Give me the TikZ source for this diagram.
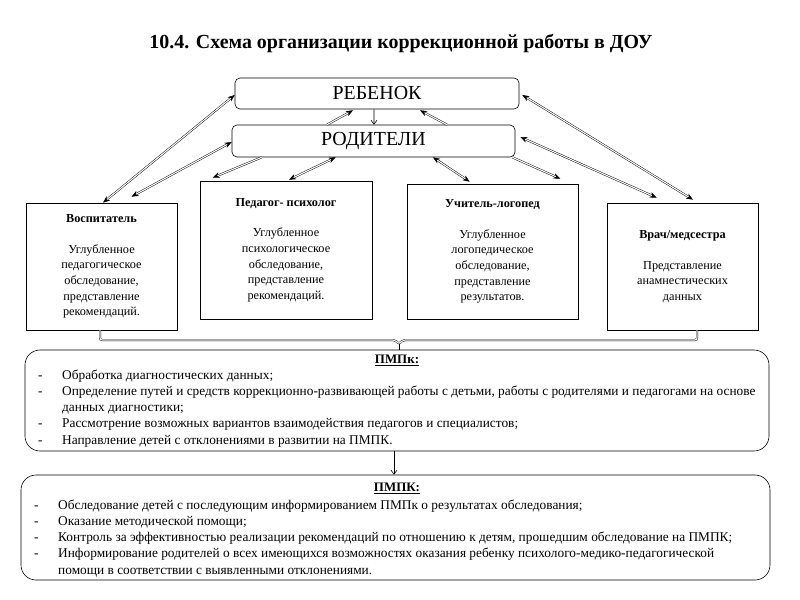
\documentclass[tikz,border=0pt]{standalone}
\usepackage{fontspec}
\setmainfont{Liberation Serif}
\newfontfamily\listfont{Liberation Serif}
\usetikzlibrary{arrows.meta,calc}
\newcommand{\ldash}{\makebox[24bp][l]{-}}
\begin{document}
\begin{tikzpicture}[x=1bp,y=-1bp,
  box/.style={draw, line width=0.6bp, align=center, inner sep=0pt, font={\fontsize{12.3}{15.7}\selectfont}},
  topbox/.style={draw, line width=0.6bp, rounded corners=5bp, inner sep=0pt, font={\fontsize{20}{22}\selectfont}},
  bigbox/.style={draw, line width=0.6bp, rounded corners=15bp, inner sep=0pt},
  listtext/.style={anchor=north west, align=left, inner sep=0pt, font={\listfont\fontsize{13.4}{16.3}\selectfont}},
  head/.style={inner sep=0pt, font={\fontsize{13}{15}\selectfont\bfseries}},
  dbl/.style={draw=black, double=white, double distance=1.1bp, line width=0.45bp},
  tp/.tip={Stealth[length=7bp,width=5.5bp]},
  both/.style={dbl, tp-tp},
  one/.style={dbl, -tp},
  thin/.style={draw, line width=0.6bp, -{Straight Barb[length=4bp,width=6bp]}}
]
\useasboundingbox (0,0) rectangle (800,600);
\fill[white] (0,0) rectangle (800,600);

\node[inner sep=0pt, font={\fontsize{20}{22}\selectfont\bfseries}] (title) at (401,43) {10.4. Схема организации коррекционной работы в ДОУ};

\node[topbox, minimum width=284bp, minimum height=31bp] (reb) at (377,93.5) {РЕБЕНОК};
\node[topbox, minimum width=283bp, minimum height=32bp] (rod) at (373.5,141) {РОДИТЕЛИ};

\node[box, minimum width=151bp, minimum height=127bp] (vos) at (101.5,266.5)
  {\textbf{Воспитатель}\\[15bp]Углубленное\\педагогическое\\обследование,\\представление\\рекомендаций.};
\node[box, minimum width=172bp, minimum height=138bp] (psy) at (286,250)
  {\textbf{Педагог- психолог}\\[15bp]Углубленное\\психологическое\\обследование,\\представление\\рекомендаций.};
\node[box, minimum width=171bp, minimum height=135bp] (log) at (492.5,251.5)
  {\textbf{Учитель-логопед}\\[15bp]Углубленное\\логопедическое\\обследование,\\представление\\результатов.};
\node[box, minimum width=151bp, minimum height=127bp] (vr) at (682.5,266.5)
  {\textbf{Врач/медсестра}\\[15bp]Представление\\анамнестических\\данных};

\node[bigbox, minimum width=744bp, minimum height=101bp] (pmpk) at (397,400.5) {};
\node[bigbox, minimum width=749bp, minimum height=105bp] (pmpkb) at (395.5,527.5) {};

\node[head] (h1) at (397,360.5) {\underline{ПМПк:}};
\node[head] (h2) at (397,488.5) {\underline{ПМПК:}};

\node[listtext] (l1) at (38,369.5) {\ldash Обработка диагностических данных;\\
\ldash Определение путей и средств коррекционно-развивающей работы с детьми, работы с родителями и педагогами на основе\\
\hspace*{24bp}данных диагностики;\\
\ldash Рассмотрение возможных вариантов взаимодействия педагогов и специалистов;\\
\ldash Направление детей с отклонениями в развитии на ПМПК.};

\node[listtext] (l2) at (34,499.5) {\ldash Обследование детей с последующим информированием ПМПк о результатах обследования;\\
\ldash Оказание методической помощи;\\
\ldash Контроль за эффективностью реализации рекомендаций по отношению к детям, прошедшим обследование на ПМПК;\\
\ldash Информирование родителей о всех имеющихся возможностях оказания ребенку психолого-медико-педагогической\\
\hspace*{24bp}помощи в соответствии с выявленными отклонениями.};

% arrows
\draw[both] ($(vos.north)+(1.5,0)$) -- ($(reb.west)+(0,1.5)$);
\draw[both] ($(vos.north)+(30,-6)$) -- ($(rod.west)+(0,1)$);
\draw[one] ($(rod.south west)+(30,0)$) -- ($(psy.north west)+(13,-3)$);
\draw[both] ($(psy.north)+(3,-1)$) -- ($(rod.south west)+(104,0)$);
\draw[one] ($(rod.north)+(-46.5,0)$) -- ($(reb.south)+(-24,1)$);
\draw[thin] ($(reb.south)+(-3,0)$) -- ($(rod.north)+(0.5,0)$);
\draw[one] ($(rod.north)+(73.5,0)$) -- ($(reb.south)+(43,1)$);
\draw[both] ($(rod.south)+(59.5,0)$) -- ($(log.north west)+(63,-2)$);
\draw[one] ($(rod.south east)+(-3,0)$) -- ($(log.north east)+(-18,-5)$);
\draw[both] ($(rod.east)+(5,-4)$) -- ($(vr.north west)+(50,-5)$);
\draw[both] ($(reb.east)+(3,1.5)$) -- ($(vr.north)+(10.5,-3)$);

% bracket
\coordinate (bk) at (399,344);
\draw[dbl, rounded corners=2bp] ($(vos.south)+(-1.5,0)$) |- ($(bk)+(-4,-4)$) -- (bk) -- ($(bk)+(4,-4)$) -| ($(vr.south)+(14.5,0)$);
\draw[line width=0.6bp] (bk) -- (bk |- pmpk.north);

\draw[thin] ($(pmpk.south)+(-3,0)$) -- ($(pmpkb.north)+(-1.5,0)$);
\end{tikzpicture}
\end{document}
